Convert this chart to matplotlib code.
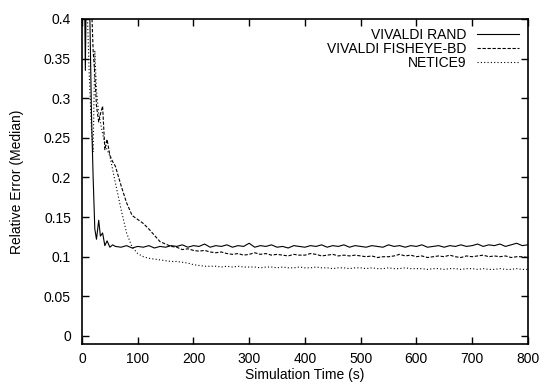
import matplotlib
matplotlib.use("Agg")
import matplotlib.pyplot as plt

plt.rcParams["font.family"] = ["Liberation Sans", "DejaVu Sans"]

# time axis: irregular start, then every 10 s
t_early = [0, 3, 6, 9, 13, 17, 20, 23, 26, 30, 33, 37, 41, 45, 50, 55]
times = t_early + list(range(60, 801, 10))

rand_err = [0.62, 0.55, 0.335, 0.52, 0.45, 0.28, 0.2, 0.135, 0.122, 0.146, 0.126, 0.13, 0.114, 0.12, 0.112, 0.115,
            0.113, 0.112, 0.114, 0.111, 0.113, 0.112, 0.114, 0.111, 0.113, 0.112,
            0.114, 0.113, 0.115, 0.112, 0.114, 0.113, 0.116, 0.112, 0.114, 0.113,
            0.115, 0.112, 0.114, 0.113, 0.117, 0.112, 0.114, 0.113, 0.115, 0.112,
            0.113, 0.111, 0.114, 0.113, 0.112, 0.114, 0.113, 0.115, 0.112, 0.114,
            0.113, 0.115, 0.112, 0.114, 0.113, 0.112, 0.114, 0.113, 0.112, 0.115,
            0.113, 0.114, 0.112, 0.114, 0.113, 0.115, 0.112, 0.113, 0.114, 0.112,
            0.114, 0.113, 0.115, 0.113, 0.114, 0.116, 0.113, 0.115, 0.114, 0.116,
            0.113, 0.115, 0.117, 0.114, 0.115]

fisheye_err = [0.62, 0.62, 0.6, 0.55, 0.5, 0.42, 0.36, 0.33, 0.29, 0.27, 0.28, 0.29, 0.235, 0.248, 0.228, 0.22,
               0.214, 0.19, 0.168, 0.152, 0.147, 0.142, 0.135, 0.127, 0.119, 0.116,
               0.113, 0.112, 0.109, 0.11, 0.108, 0.107, 0.108, 0.106, 0.105, 0.106,
               0.104, 0.103, 0.104, 0.102, 0.103, 0.105, 0.103, 0.104, 0.102, 0.103,
               0.102, 0.101, 0.103, 0.102, 0.102, 0.104, 0.103, 0.101, 0.102, 0.103,
               0.101, 0.102, 0.101, 0.102, 0.101, 0.1, 0.101, 0.099, 0.1, 0.1,
               0.101, 0.103, 0.101, 0.102, 0.1, 0.101, 0.099, 0.1, 0.101, 0.1,
               0.102, 0.1, 0.099, 0.101, 0.1, 0.101, 0.102, 0.1, 0.101, 0.1,
               0.101, 0.099, 0.1, 0.1, 0.099]

netice_err = [0.62, 0.6, 0.55, 0.42, 0.33, 0.26, 0.232, 0.36, 0.31, 0.28, 0.27, 0.255, 0.244, 0.235, 0.227, 0.21,
              0.193, 0.16, 0.13, 0.112, 0.104, 0.1, 0.098, 0.097, 0.096, 0.095,
              0.094, 0.094, 0.093, 0.092, 0.09, 0.089, 0.088, 0.088, 0.088, 0.087,
              0.088, 0.087, 0.088, 0.087, 0.087, 0.087, 0.086, 0.087, 0.087, 0.086,
              0.087, 0.086, 0.086, 0.087, 0.086, 0.086, 0.087, 0.086, 0.086, 0.085,
              0.086, 0.086, 0.085, 0.086, 0.086, 0.085, 0.086, 0.085, 0.085, 0.086,
              0.085, 0.085, 0.086, 0.085, 0.085, 0.085, 0.084, 0.085, 0.085, 0.084,
              0.085, 0.085, 0.084, 0.085, 0.085, 0.084, 0.085, 0.084, 0.084, 0.085,
              0.084, 0.084, 0.085, 0.084, 0.084]

labels = ["VIVALDI RAND", "VIVALDI FISHEYE-BD", "NETICE9"]

fig = plt.figure(figsize=(5.43, 3.86), dpi=100)
ax = fig.add_axes([0.151, 0.109, 0.821, 0.842])

ax.plot(times, rand_err, color="black", lw=0.8, label=labels[0])
ax.plot(times, fisheye_err, color="black", lw=0.8, linestyle=(0, (3, 1.5)), label=labels[1])
ax.plot(times, netice_err, color="black", lw=0.8, linestyle=(0, (1, 2)), label=labels[2])

ax.set_xlim(0, 800)
ax.set_ylim(-0.01, 0.4)
ax.set_xticks(range(0, 801, 100))
ax.set_yticks([0, 0.05, 0.1, 0.15, 0.2, 0.25, 0.3, 0.35, 0.4])
ax.set_yticklabels(["0", "0.05", "0.1", "0.15", "0.2", "0.25", "0.3", "0.35", "0.4"])
ax.tick_params(direction="in", length=5, width=1, top=True, right=True, labelsize=10)
ax.tick_params(axis="x", pad=6)
ax.tick_params(axis="y", pad=8)
for s in ax.spines.values():
    s.set_linewidth(1.2)

ax.set_xlabel("Simulation Time (s)", fontsize=10, labelpad=1)
ax.set_ylabel("Relative Error (Median)", fontsize=10, labelpad=14)

ax.legend(loc="upper right", frameon=False, markerfirst=False, fontsize=10,
          handlelength=3.0, labelspacing=0.0, borderaxespad=0.25, handletextpad=0.8)

fig.savefig("out.png", dpi=100)
